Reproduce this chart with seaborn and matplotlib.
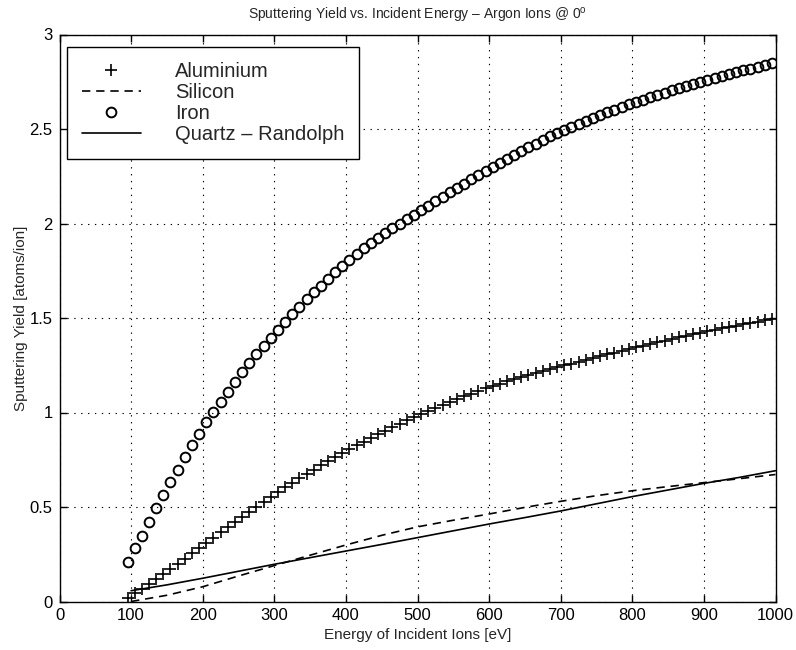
import numpy as np
import pandas as pd
import matplotlib
matplotlib.use("Agg")
import matplotlib.pyplot as plt
from matplotlib.ticker import FuncFormatter, MultipleLocator
import seaborn as sns

# ---------------- data ----------------
energy_markers = np.arange(95, 1000, 10)          # eV, marker series

aluminium = [
    0.020, 0.045, 0.068, 0.092, 0.118, 0.145, 0.172, 0.199, 0.226, 0.254,
    0.282, 0.310, 0.338, 0.366, 0.394, 0.421, 0.448, 0.475, 0.502, 0.528,
    0.554, 0.580, 0.604, 0.628, 0.652, 0.675, 0.698, 0.720, 0.742, 0.764,
    0.785, 0.806, 0.826, 0.846, 0.866, 0.885, 0.904, 0.922, 0.940, 0.958,
    0.975, 0.992, 1.009, 1.025, 1.041, 1.056, 1.071, 1.086, 1.100, 1.114,
    1.128, 1.141, 1.153, 1.165, 1.176, 1.187, 1.198, 1.209, 1.219, 1.229,
    1.239, 1.249, 1.259, 1.269, 1.279, 1.289, 1.299, 1.308, 1.317, 1.326,
    1.335, 1.344, 1.353, 1.362, 1.371, 1.380, 1.389, 1.397, 1.405, 1.413,
    1.421, 1.429, 1.437, 1.445, 1.452, 1.459, 1.466, 1.473, 1.480, 1.487,
    1.494,
]

iron = [
    0.207, 0.281, 0.348, 0.422, 0.493, 0.563, 0.632, 0.697, 0.763, 0.826,
    0.888, 0.950, 1.003, 1.057, 1.110, 1.163, 1.213, 1.262, 1.308, 1.352,
    1.394, 1.437, 1.479, 1.521, 1.560, 1.598, 1.635, 1.671, 1.706, 1.741,
    1.775, 1.807, 1.838, 1.868, 1.897, 1.924, 1.950, 1.975, 1.999, 2.022,
    2.045, 2.069, 2.093, 2.117, 2.141, 2.165, 2.188, 2.211, 2.234, 2.257,
    2.280, 2.301, 2.322, 2.343, 2.364, 2.385, 2.404, 2.423, 2.442, 2.461,
    2.480, 2.497, 2.513, 2.529, 2.544, 2.559, 2.574, 2.588, 2.602, 2.616,
    2.630, 2.643, 2.656, 2.668, 2.680, 2.692, 2.704, 2.716, 2.728, 2.739,
    2.750, 2.760, 2.770, 2.780, 2.790, 2.800, 2.810, 2.820, 2.830, 2.839,
    2.848,
]

energy_lines = [100, 150, 200, 250, 300, 350, 400, 450, 500, 550,
                600, 650, 700, 750, 800, 850, 900, 950, 1000]
silicon = [0.000, 0.033, 0.078, 0.135, 0.190, 0.245, 0.299, 0.350, 0.395, 0.430,
           0.463, 0.498, 0.530, 0.560, 0.586, 0.608, 0.629, 0.650, 0.672]
quartz = [0.057, 0.088, 0.123, 0.160, 0.197, 0.232, 0.267, 0.302, 0.338, 0.374,
          0.410, 0.444, 0.479, 0.517, 0.555, 0.590, 0.625, 0.657, 0.692]

labels = ["Aluminium", "Silicon", "Iron", "Quartz \u2013 Randolph"]
title = "Sputtering Yield vs. Incident Energy \u2013 Argon Ions @ $\\mathregular{0^o}$"
xlabel = "Energy of Incident Ions [eV]"
ylabel = "Sputtering Yield [atoms/ion]"

# ---------------- style ----------------
sns.set_theme(style="ticks")
plt.rcParams["font.family"] = ["Liberation Sans", "DejaVu Sans"]
plt.rcParams["mathtext.fontset"] = "custom"
plt.rcParams["mathtext.rm"] = "Liberation Sans"
plt.rcParams["mathtext.it"] = "Liberation Sans"
plt.rcParams["axes.edgecolor"] = "black"
plt.rcParams["axes.linewidth"] = 1.0

fig = plt.figure(figsize=(7.96, 6.5), dpi=100)
ax = fig.add_axes([59.5 / 796, 1 - 601.5 / 650, 716 / 796, 567 / 650])

al_df = pd.DataFrame({"E": energy_markers, "Y": aluminium})
fe_df = pd.DataFrame({"E": energy_markers, "Y": iron})
si_df = pd.DataFrame({"E": energy_lines, "Y": silicon})
qz_df = pd.DataFrame({"E": energy_lines, "Y": quartz})

sns.lineplot(data=al_df, x="E", y="Y", ax=ax, color="black", linestyle="none",
             marker="+", markersize=8, markeredgecolor="black",
             markeredgewidth=1.2, label=labels[0])
sns.lineplot(data=si_df, x="E", y="Y", ax=ax, color="black", linewidth=1.2,
             linestyle=(0, (5, 3.5)), label=labels[1])
sns.lineplot(data=fe_df, x="E", y="Y", ax=ax, color="black", linestyle="none",
             marker="o", markersize=7, markerfacecolor="none",
             markeredgecolor="black", markeredgewidth=1.4, label=labels[2])
sns.lineplot(data=qz_df, x="E", y="Y", ax=ax, color="black", linewidth=1.2,
             label=labels[3])

ax.set_xlim(0, 1000)
ax.set_ylim(0, 3)
ax.xaxis.set_major_locator(MultipleLocator(100))
ax.yaxis.set_major_locator(MultipleLocator(0.5))
ax.yaxis.set_major_formatter(FuncFormatter(lambda v, p: f"{v:g}"))
ax.xaxis.set_major_formatter(FuncFormatter(lambda v, p: f"{v:g}"))

ax.grid(True, color="black", linestyle=(0, (1.2, 5)), linewidth=0.8)
ax.tick_params(direction="in", top=True, right=True, length=5, width=1,
               labelsize=12, colors="black", pad=5)
for s in ax.spines.values():
    s.set_visible(True)
    s.set_color("black")

ax.set_title(title, fontsize=10, pad=11)
ax.set_xlabel(xlabel, fontsize=11)
ax.set_ylabel(ylabel, fontsize=11)
ax.xaxis.set_label_coords(0.5, -0.047)
ax.yaxis.set_label_coords(-0.044, 0.5)

handles, labs = ax.get_legend_handles_labels()
leg = ax.legend(handles, labs, loc="upper left",
                bbox_to_anchor=(67 / 796, 1 - 47 / 650),
                bbox_transform=fig.transFigure, borderaxespad=0,
                fontsize=14.5, frameon=True, fancybox=False, edgecolor="black",
                framealpha=1, handlelength=2.9, handletextpad=1.7,
                labelspacing=0.1, borderpad=0.75)
leg.get_frame().set_linewidth(1.0)

fig.savefig("out.png", dpi=100)
